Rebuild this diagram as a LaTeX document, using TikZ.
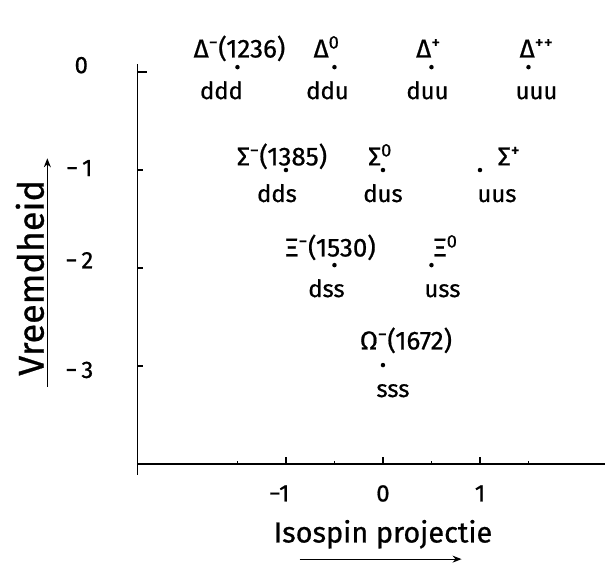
\documentclass[tikz,border=0pt]{standalone}
\usepackage{fontspec}
\setmainfont{Fira Sans}[UprightFeatures={FakeBold=0.7}]
\usetikzlibrary{positioning,arrows.meta}

\begin{document}
\begin{tikzpicture}[x=97bp, y=98bp,
    font=\fontsize{24}{28}\selectfont,
    dot/.style={circle, fill, inner sep=0pt, minimum size=4.5bp},
    hadron/.style={inner sep=0pt, text depth=0pt, font=\fontsize{26}{30}\selectfont},
    quarks/.style={inner sep=0pt, text height=17.3bp, text depth=0pt},
    axis/.style={line width=1.6bp},
    >={Stealth[length=9bp, width=7bp]}]
  \def\yax{-2.53}
  \def\xax{-4}
  \useasboundingbox (-3.948,0.735) rectangle (2.299,-5.041);
  % axes
  \coordinate (ytop) at (\yax,0.08);
  \coordinate (ybot) at (\yax,-4.11);
  \coordinate (xleft) at (\yax,\xax);
  \coordinate (xright) at (2.29,\xax);
  \draw[axis] (ytop) -- (ybot);
  \draw[axis] (xleft) -- (xright);
  \draw[axis] (\yax,0) -- ++(9bp,0);
  \foreach \s in {-1,-2,-3}
    \draw[axis] (\yax,\s) -- ++(5bp,0);
  \foreach \i in {-1,0,1}
    \draw[axis] (\i,\xax) -- ++(0,7bp);
  \foreach \i in {-1.5,-0.5,0.5,1.5}
    \draw[axis] (\i,\xax) -- ++(0,3bp);
  % labels on the axes
  \node (s0) at (-3.11,0.07) {0};
  \node (s1) at (-3.13,-0.98) {−\,1};
  \node (s2) at (-3.13,-1.92) {−\,2};
  \node (s3) at (-3.13,-3.04) {−\,3};
  \node[rotate=90, font=\fontsize{36}{42}\selectfont] (vreemd) at (-3.64,-2.10) {Vreemdheid};
  \coordinate (va) at (-3.46,-3.21);
  \coordinate (vb) at (-3.46,-0.88);
  \draw[line width=1.2bp, ->] (va) -- (vb);
  \node (i1) at (-1.07,-4.3) {−1};
  \node (i2) at (0,-4.3) {0};
  \node (i3) at (1,-4.3) {1};
  \node[anchor=base, font=\fontsize{29}{34}\selectfont] (iso) at (0,-4.80) {Isospin projectie};
  \coordinate (ia) at (-0.86,-4.97);
  \coordinate (ib) at (0.81,-4.97);
  \draw[line width=1.2bp, ->] (ia) -- (ib);
  % delta
  \node[dot] (ddd) at (-1.5,0.05) {};
  \node[dot] (ddu) at (-0.5,0.05) {};
  \node[dot] (duu) at (0.5,0.05) {};
  \node[dot] (uuu) at (1.5,0.05) {};
  \node[hadron, above=7bp of ddd, xshift=2bp] (dm) {Δ\textsuperscript{−}(1236)};
  \node[hadron, above=7bp of ddu, xshift=-8bp] (dz) {Δ\textsuperscript{0}};
  \node[hadron, above=7bp of duu, xshift=-3bp] (dp) {Δ\textsuperscript{+}};
  \node[hadron, above=7bp of uuu, xshift=8bp] (dpp) {Δ\textsuperscript{++}};
  \node[quarks, below=12bp of ddd, xshift=-16bp] {ddd};
  \node[quarks, below=12bp of ddu, xshift=-7bp] {ddu};
  \node[quarks, below=12bp of duu, xshift=-4bp] {duu};
  \node[quarks, below=12bp of uuu, xshift=8bp] {uuu};
  % sigma
  \node[dot] (dds) at (-1,-1) {};
  \node[dot] (dus) at (0,-1) {};
  \node[dot] (uus) at (1,-1) {};
  \node[hadron, above=2bp of dds, xshift=-4bp] (sm) {Σ\textsuperscript{−}(1385)};
  \node[hadron, above=2bp of dus, xshift=-3bp] (sz) {Σ\textsuperscript{0}};
  \node[hadron, above=2bp of uus, xshift=29bp] (sp) {Σ\textsuperscript{+}};
  \node[quarks, below=12bp of dds, xshift=-9bp] {dds};
  \node[quarks, below=12bp of dus] {dus};
  \node[quarks, below=12bp of uus, xshift=17bp] {uus};
  % xi
  \node[dot] (dss) at (-0.5,-1.97) {};
  \node[dot] (uss) at (0.5,-1.97) {};
  \node[hadron, above=6bp of dss, xshift=-4bp] (xm) {Ξ\textsuperscript{−}(1530)};
  \node[hadron, above=6bp of uss, xshift=14bp] (xz) {Ξ\textsuperscript{0}};
  \node[quarks, below=12bp of dss, xshift=-8bp] {dss};
  \node[quarks, below=12bp of uss, xshift=11bp] {uss};
  % omega
  \node[dot] (sss) at (0,-2.99) {};
  \node[hadron, above=13bp of sss, xshift=23bp] (om) {Ω\textsuperscript{−}(1672)};
  \node[quarks, below=12bp of sss, xshift=10bp] {sss};
\end{tikzpicture}
\end{document}
